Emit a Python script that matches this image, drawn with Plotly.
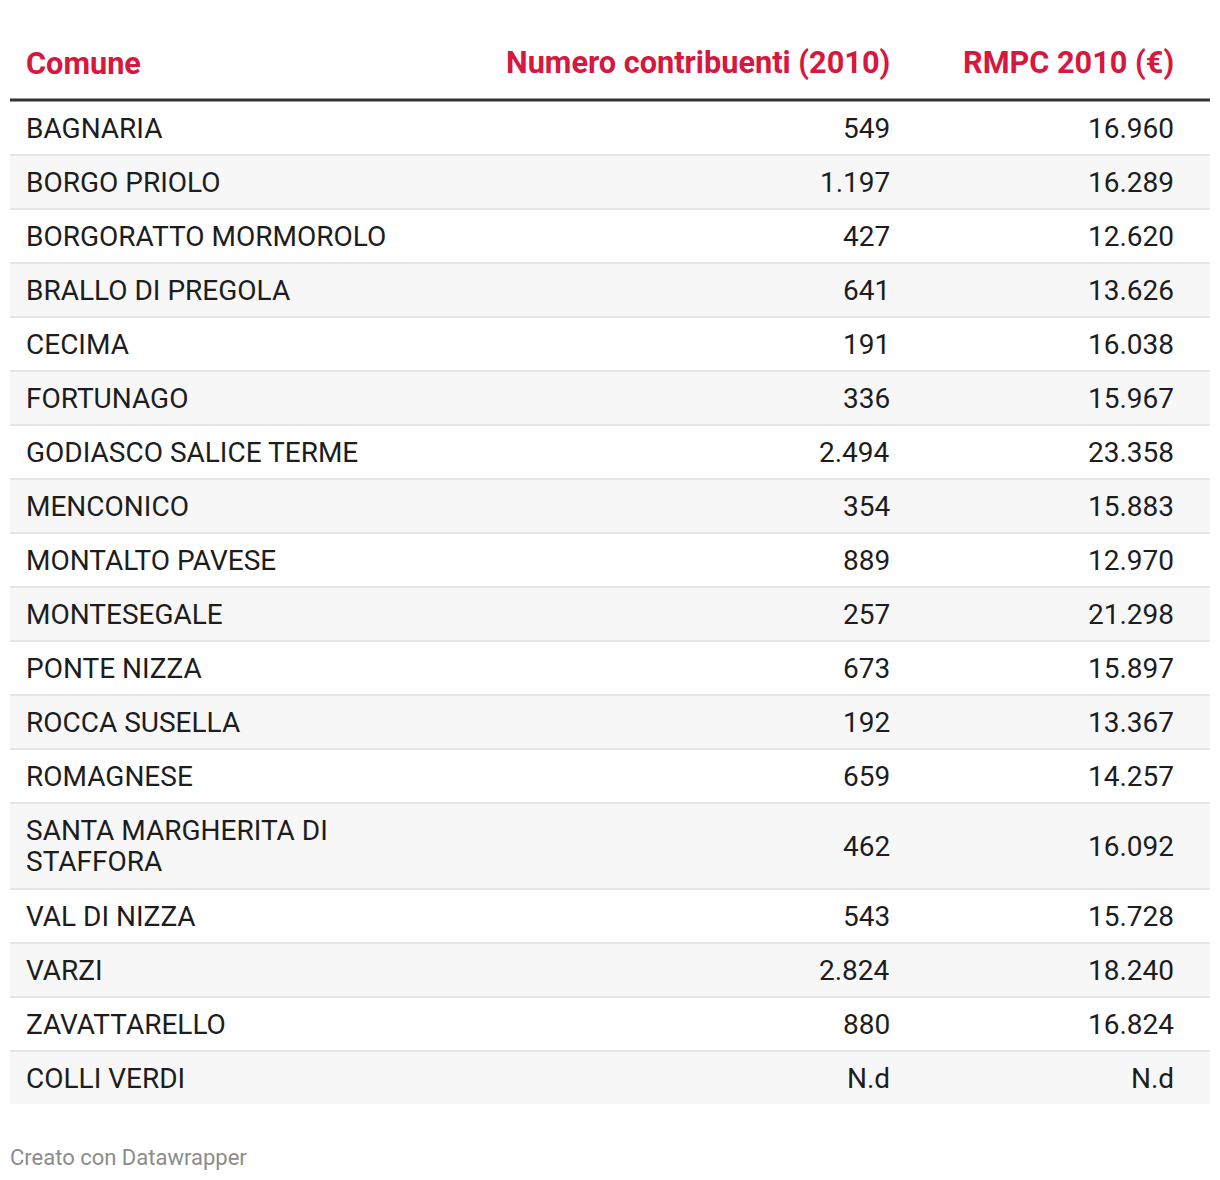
import textwrap
import plotly.graph_objects as go

# ---- data ----
comuni = [
    "BAGNARIA", "BORGO PRIOLO", "BORGORATTO MORMOROLO", "BRALLO DI PREGOLA",
    "CECIMA", "FORTUNAGO", "GODIASCO SALICE TERME", "MENCONICO",
    "MONTALTO PAVESE", "MONTESEGALE", "PONTE NIZZA", "ROCCA SUSELLA",
    "ROMAGNESE", "SANTA MARGHERITA DI STAFFORA", "VAL DI NIZZA", "VARZI",
    "ZAVATTARELLO", "COLLI VERDI",
]
contribuenti = [549, 1197, 427, 641, 191, 336, 2494, 354, 889, 257, 673, 192,
                659, 462, 543, 2824, 880, None]
rmpc = [16960, 16289, 12620, 13626, 16038, 15967, 23358, 15883, 12970, 21298,
        15897, 13367, 14257, 16092, 15728, 18240, 16824, None]
headers = ["Comune", "Numero contribuenti (2010)", "RMPC 2010 (€)"]
footer = "Creato con Datawrapper"

# ---- style / layout constants ----
W, H = 1220, 1180
OFF = 8    # page body margin
PAD = 3    # annotation inner padding
RED = "#d7173d"
TEXT = "#1d1d1d"
FONT = "Roboto"
LEFT, RIGHT = 10, 1210
COL1_X, COL2_X, COL3_X = 27 - PAD, 889 + PAD, 1173 + PAD
HEADER_Y = 63
HEADER_LINE_Y = 100
ROW_BASE = 52
LINE_EXTRA = 32
LINE_SPACING = 31.5
BORDER = 2


def fmt(v):
    if v is None:
        return "N.d"
    return f"{v:,}".replace(",", ".")


fig = go.Figure()
# invisible trace to establish axes
fig.add_trace(go.Scatter(x=[OFF, W], y=[OFF, H], mode="markers",
                         marker=dict(opacity=0), hoverinfo="skip", showlegend=False))

shapes = []
annotations = []

for i, txt in enumerate(headers):
    x = [COL1_X, COL2_X, COL3_X][i]
    annotations.append(dict(
        x=x, y=HEADER_Y, xref="x", yref="y", text=f"<b>{txt}</b>",
        showarrow=False, xanchor="left" if i == 0 else "right", yanchor="middle",
        font=dict(family=FONT, size=30.7, color=RED)))

shapes.append(dict(type="line", x0=LEFT, x1=RIGHT, y0=HEADER_LINE_Y, y1=HEADER_LINE_Y,
                   xref="x", yref="y", line=dict(color="#333333", width=3)))

top = HEADER_LINE_Y + 2
n = len(comuni)
body_font = dict(family=FONT, size=28, color=TEXT)
for i, (name, c, r) in enumerate(zip(comuni, contribuenti, rmpc)):
    lines = textwrap.wrap(name, 24)
    h = ROW_BASE + (len(lines) - 1) * LINE_EXTRA
    if i % 2 == 1:
        shapes.append(dict(type="rect", x0=LEFT, x1=RIGHT, y0=top, y1=top + h,
                           xref="x", yref="y", fillcolor="#f7f7f7",
                           line=dict(width=0), layer="below"))
    cy = top + h / 2
    first = cy - (len(lines) - 1) * LINE_SPACING / 2
    for k, ln in enumerate(lines):
        annotations.append(dict(
            x=COL1_X, y=first + k * LINE_SPACING, xref="x", yref="y", text=ln,
            showarrow=False, xanchor="left", yanchor="middle", font=body_font))
    for x, t in [(COL2_X, fmt(c)), (COL3_X, fmt(r))]:
        annotations.append(dict(
            x=x, y=cy, xref="x", yref="y", text=t, showarrow=False,
            xanchor="right", yanchor="middle", font=body_font))
    if i < n - 1:
        shapes.append(dict(type="line", x0=LEFT, x1=RIGHT,
                           y0=top + h + BORDER / 2, y1=top + h + BORDER / 2,
                           xref="x", yref="y", line=dict(color="#e6e6e6", width=BORDER)))
    top += h + BORDER

annotations.append(dict(
    x=LEFT - 2, y=1157, xref="x", yref="y", text=footer, showarrow=False,
    xanchor="left", yanchor="middle",
    font=dict(family=FONT, size=22, color="#8c8c8c")))

fig.update_layout(
    width=W - OFF, height=H - OFF,
    margin=dict(l=0, r=0, t=0, b=0),
    paper_bgcolor="white", plot_bgcolor="white",
    xaxis=dict(range=[OFF, W], visible=False, fixedrange=True),
    yaxis=dict(range=[H, OFF], visible=False, fixedrange=True),
    shapes=shapes, annotations=annotations,
    showlegend=False,
)

fig.write_html("out.html", config={"displayModeBar": False})
